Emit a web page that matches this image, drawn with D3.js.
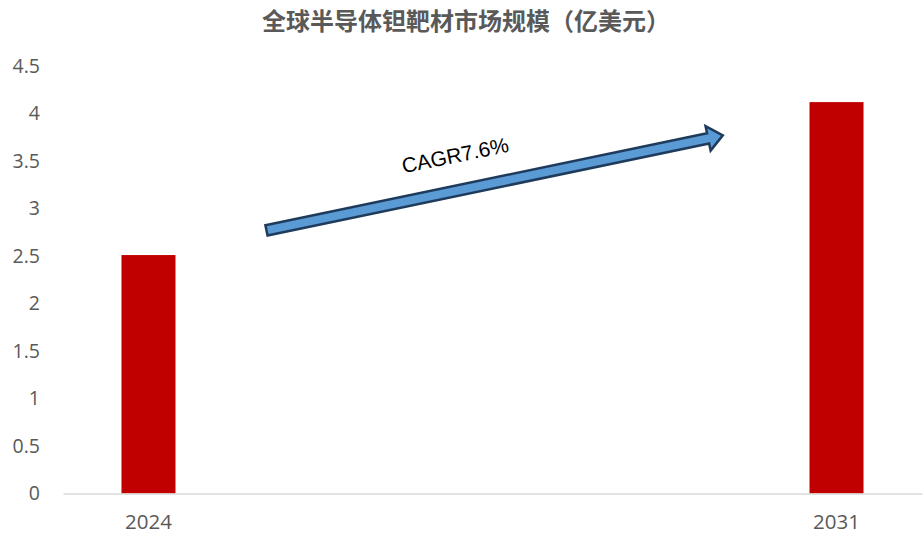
<!DOCTYPE html>
<html>
<head>
<meta charset="utf-8">
<script src="https://cdn.jsdelivr.net/npm/d3@7"></script>
<style>
  html, body { margin: 0; padding: 0; background: #fff; }
  svg { display: block; }
</style>
</head>
<body>
<svg id="chart" width="923" height="536"></svg>
<script>
// Chart data
const title = "全球半导体钽靶材市场规模（亿美元）";
const categories = ["2024", "2031"];
const marketSize = [2.51, 4.12];
const yTickValues = [0, 0.5, 1, 1.5, 2, 2.5, 3, 3.5, 4, 4.5];
const yTickLabels = ["0", "0.5", "1", "1.5", "2", "2.5", "3", "3.5", "4", "4.5"];
const cagrLabel = "CAGR7.6%";
// Growth arrow anchors: position between the two category centres (0..1) and value
const arrowFrom = [0.1715, 2.77];
const arrowTo = [0.8347, 3.77];

const W = 923, H = 536;
const margin = { top: 66, right: 1, bottom: 42.5, left: 63 };
const svg = d3.select("#chart");

const x = d3.scaleBand()
  .domain(categories)
  .range([margin.left, W - margin.right])
  .paddingInner(0.9215)
  .paddingOuter(0.085);

const y = d3.scaleLinear()
  .domain([0, 4.5])
  .range([H - margin.bottom, margin.top]);

// Title
svg.append("text")
  .attr("x", 466)
  .attr("y", 19)
  .attr("text-anchor", "middle")
  .attr("dominant-baseline", "central")
  .attr("font-family", "'Noto Sans CJK SC', sans-serif")
  .attr("font-weight", 700)
  .attr("font-size", 24)
  .attr("fill", "#595959")
  .text(title);

// Bars
svg.append("g")
  .selectAll("rect")
  .data(categories)
  .join("rect")
  .attr("x", d => x(d))
  .attr("width", x.bandwidth())
  .attr("y", (d, i) => y(marketSize[i]))
  .attr("height", (d, i) => y(0) - y(marketSize[i]))
  .attr("fill", "#C00000");

// Y axis labels (no axis line)
const yAxis = svg.append("g")
  .attr("transform", `translate(${margin.left},0)`)
  .call(d3.axisLeft(y)
    .tickValues(yTickValues)
    .tickFormat((d, i) => yTickLabels[i])
    .tickSize(0)
    .tickPadding(23));
yAxis.select(".domain").remove();
yAxis.selectAll("text")
  .attr("font-family", "'Open Sans', sans-serif")
  .attr("font-size", 19.5)
  .attr("fill", "#595959");

// X axis: baseline and category labels
const xAxis = svg.append("g")
  .attr("transform", `translate(0,${y(0)})`)
  .call(d3.axisBottom(x).tickSize(0).tickPadding(21));
xAxis.select(".domain")
  .attr("stroke", "#D9D9D9")
  .attr("stroke-width", 1.5);
xAxis.selectAll("text")
  .attr("font-family", "'Open Sans', sans-serif")
  .attr("font-size", 20.5)
  .attr("fill", "#595959");

// Growth arrow
const c0 = x(categories[0]) + x.bandwidth() / 2;
const c1 = x(categories[1]) + x.bandwidth() / 2;
const ax = t => c0 + t * (c1 - c0);
const p0 = [ax(arrowFrom[0]), y(arrowFrom[1])];
const p1 = [ax(arrowTo[0]), y(arrowTo[1])];
const len = Math.hypot(p1[0] - p0[0], p1[1] - p0[1]);
const ang = Math.atan2(p1[1] - p0[1], p1[0] - p0[0]) * 180 / Math.PI;
const shaftHalf = 5.2, headHalf = 12.5, headLen = 15;
const arrowPts = [
  [0, -shaftHalf], [len - headLen, -shaftHalf], [len - headLen, -headHalf],
  [len, 0],
  [len - headLen, headHalf], [len - headLen, shaftHalf], [0, shaftHalf]
];
svg.append("path")
  .attr("transform", `translate(${p0[0]},${p0[1]}) rotate(${ang})`)
  .attr("d", d3.line()(arrowPts) + "Z")
  .attr("fill", "#5B9BD5")
  .attr("stroke", "#1F3B5C")
  .attr("stroke-width", 2.5)
  .attr("stroke-linejoin", "miter");

// CAGR label
const mid = [p0[0] + (p1[0] - p0[0]) * 0.41, p0[1] + (p1[1] - p0[1]) * 0.41];
svg.append("text")
  .attr("transform", `translate(${mid[0] + 3},${mid[1] - 29}) rotate(${ang + 0.3})`)
  .attr("text-anchor", "middle")
  .attr("font-family", "'Liberation Sans', Arial, sans-serif")
  .attr("font-size", 21)
  .attr("fill", "#000")
  .text(cagrLabel);
</script>
</body>
</html>
